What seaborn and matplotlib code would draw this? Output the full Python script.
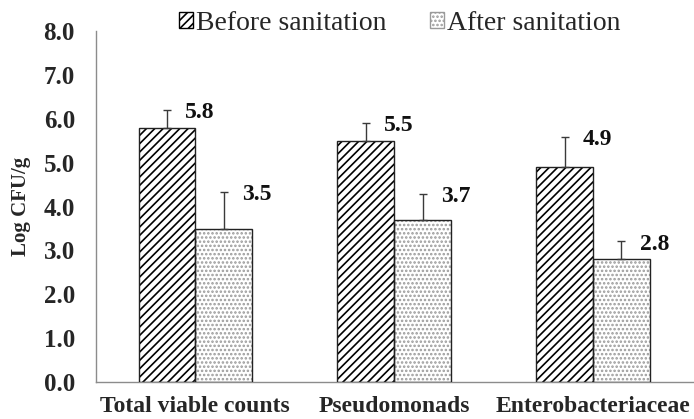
import matplotlib
matplotlib.use("Agg")
import matplotlib.pyplot as plt
from matplotlib.patches import Rectangle, Patch
from matplotlib.ticker import FixedLocator
import seaborn as sns
import pandas as pd

categories = ["Total viable counts", "Pseudomonads", "Enterobacteriaceae"]
conditions = ["Before sanitation", "After sanitation"]
before_vals = [5.8, 5.5, 4.9]
after_vals = [3.5, 3.7, 2.8]
before_err = [0.41, 0.41, 0.68]
after_err = [0.84, 0.59, 0.41]
y_ticks = [0, 1, 2, 3, 4, 5, 6, 7, 8]

df = pd.DataFrame({
    "category": categories * 2,
    "condition": [conditions[0]] * 3 + [conditions[1]] * 3,
    "value": before_vals + after_vals,
    "err": before_err + after_err,
})

sns.set_theme(style="white")
plt.rcParams["font.family"] = ["Liberation Serif", "DejaVu Serif"]
plt.rcParams["hatch.linewidth"] = 1.2

fig = plt.figure(figsize=(6.94, 4.19), dpi=100)
ax = fig.add_axes([0.138, 0.088, 0.860, 0.838])

sns.barplot(data=df, x="category", y="value", hue="condition",
            order=categories, hue_order=conditions, width=0.57,
            errorbar=None, palette=["white", "white"], ax=ax, legend=False)

axis_grey = "#8c8c8c"
dot_grey = "#9a9a9a"
hatches = {conditions[0]: "////", conditions[1]: "...."}
hatch_colors = {conditions[0]: "black", conditions[1]: dot_grey}

for cond, container in zip(conditions, ax.containers):
    sub = df[df["condition"] == cond].set_index("category").loc[categories]
    for bar, (cat, row) in zip(container.patches, sub.iterrows()):
        bar.set_hatch(hatches[cond])
        bar.set_edgecolor(hatch_colors[cond])
        bar.set_linewidth(0)
        # crisp outline drawn on top of the hatched face
        ax.add_patch(Rectangle((bar.get_x(), bar.get_y()), bar.get_width(),
                               bar.get_height(), fill=False,
                               edgecolor="#222222", linewidth=1.0, zorder=3))
        cx = bar.get_x() + bar.get_width() / 2
        ax.errorbar(cx, row["value"], yerr=[[0], [row["err"]]], fmt="none",
                    ecolor="#3a3a3a", elinewidth=1.0, capsize=3, capthick=1.0,
                    zorder=4)
        ax.annotate(f"{row['value']:.1f}", xy=(cx, row["value"] + row["err"]),
                    xytext=(13, -2), textcoords="offset points",
                    ha="left", va="center", fontsize=17, fontweight="bold",
                    color="#111111")

ax.set_xlim(-0.5, 2.5)
ax.set_ylim(0, 8)
ax.set_yticks(y_ticks)
ax.set_yticklabels([f"{v:.1f}" for v in y_ticks], fontsize=18,
                   fontweight="bold")
ax.set_xticks(range(len(categories)))
ax.set_xticklabels(categories, fontsize=17, fontweight="bold")
ax.xaxis.set_minor_locator(FixedLocator([-0.5, 0.5, 1.5, 2.5]))
ax.tick_params(axis="x", which="major", length=0, pad=10)
ax.tick_params(axis="x", which="minor", length=7, width=1.0, color=axis_grey,
               direction="out")
ax.tick_params(axis="y", length=6, width=1.0, color=axis_grey,
               direction="out", pad=9)
ax.set_xlabel("")
ax.set_ylabel("Log CFU/g", fontsize=15, fontweight="bold", labelpad=9)

for side in ["top", "right"]:
    ax.spines[side].set_visible(False)
for side in ["left", "bottom"]:
    ax.spines[side].set_color(axis_grey)
    ax.spines[side].set_linewidth(1.0)

handles = [Patch(facecolor="white", edgecolor="black", hatch="////",
                 linewidth=1.0),
           Patch(facecolor="white", edgecolor=dot_grey, hatch="....",
                 linewidth=1.0)]
fig.legend(handles, conditions, loc="center", bbox_to_anchor=(0.576, 0.945),
           ncol=2, frameon=False, fontsize=20, handlelength=0.5,
           handleheight=0.5, handletextpad=0.1, columnspacing=1.6,
           borderpad=0, borderaxespad=0)

fig.savefig("out.png", dpi=100)
